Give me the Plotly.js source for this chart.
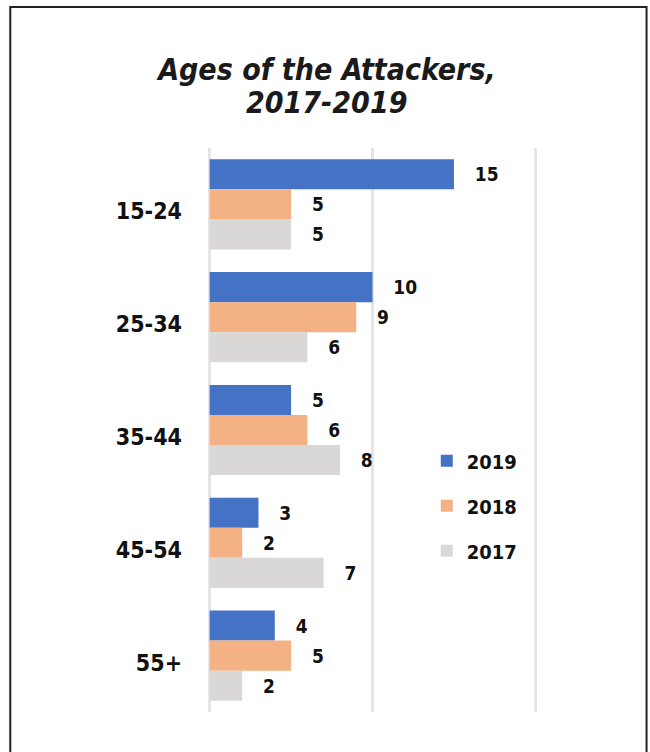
<!DOCTYPE html>
<html>
<head>
<meta charset="utf-8">
<script src="https://cdn.plot.ly/plotly-3.0.1.min.js"></script>
<style>html,body{margin:0;padding:0;background:#fff;}</style>
</head>
<body>
<div id="chart" style="width:650px;height:752px;"></div>
<script>
const categories = ["15-24", "25-34", "35-44", "45-54", "55+"];
const seriesNames = ["2019", "2018", "2017"];
const values2019 = [15, 10, 5, 3, 4];
const values2018 = [5, 9, 6, 2, 5];
const values2017 = [5, 6, 8, 7, 2];
const titleLines = ["Ages of the Attackers,", "2017-2019"];
const colors = ["#4472C4", "#F4B183", "#D9D8D6"];

const FONT = '"DejaVu Sans Condensed", "Liberation Sans Narrow", "Liberation Sans", Arial, sans-serif';
const seriesValues = [values2019, values2018, values2017];

const traces = seriesValues.map((vals, i) => ({
  type: "bar",
  orientation: "h",
  name: seriesNames[i],
  legendgroup: seriesNames[i],
  y: categories,
  x: vals,
  marker: {color: colors[i]},
  text: vals.map(v => "\u00a0\u00a0\u00a0" + v),
  textposition: "outside",
  textfont: {family: FONT, size: 19, color: "#111", weight: "bold"},
  cliponaxis: false,
  hoverinfo: "skip"
}));

const layout = {
  width: 650,
  height: 752,
  paper_bgcolor: "#fff",
  plot_bgcolor: "#fff",
  margin: {l: 208.4, r: 113.4, t: 148, b: 40},
  barmode: "group",
  bargap: 0.2,
  bargroupgap: 0,
  title: {
    text: "<b><i>" + titleLines[0] + "</i></b>",
    font: {family: FONT, size: 30, color: "#1a1a1a"},
    x: 0.503, xanchor: "center",
    y: 0.907, yanchor: "middle"
  },
  annotations: [{
    text: "<b><i>" + titleLines[1] + "</i></b>",
    xref: "paper", yref: "paper",
    x: (327 - 208.4) / 328.2, xanchor: "center",
    y: 1 + (148 - 102) / 564, yanchor: "middle",
    showarrow: false,
    font: {family: FONT, size: 30, color: "#1a1a1a"}
  }],
  xaxis: {
    range: [-0.1, 20.1],
    tick0: 0,
    dtick: 10,
    showticklabels: false,
    showgrid: true,
    gridcolor: "#E5E5E5",
    gridwidth: 2.5,
    zeroline: true,
    zerolinecolor: "#E5E5E5",
    zerolinewidth: 2.5,
    showline: false,
    fixedrange: true
  },
  yaxis: {
    autorange: "reversed",
    showgrid: false,
    showline: false,
    zeroline: false,
    ticks: "",
    ticklabelstandoff: 25,
    ticklabelshift: -7,
    tickfont: {family: FONT, size: 23, color: "#111", weight: "bold"}
  },
  legend: {
    x: 0.665, xanchor: "left",
    y: 0.48, yanchor: "top",
    bgcolor: "rgba(0,0,0,0)",
    font: {family: FONT, size: 20, color: "#111", weight: "bold"},
    tracegroupgap: 16,
    traceorder: "grouped"
  },
  shapes: [{
    type: "rect", xref: "paper", yref: "paper",
    x0: -0.601, x1: 1.333, y0: -0.2, y1: 1.25,
    line: {color: "#222", width: 2},
    fillcolor: "rgba(0,0,0,0)"
  }],
  showlegend: true
};

Plotly.newPlot("chart", traces, layout, {displayModeBar: false, staticPlot: true});
</script>
</body>
</html>
